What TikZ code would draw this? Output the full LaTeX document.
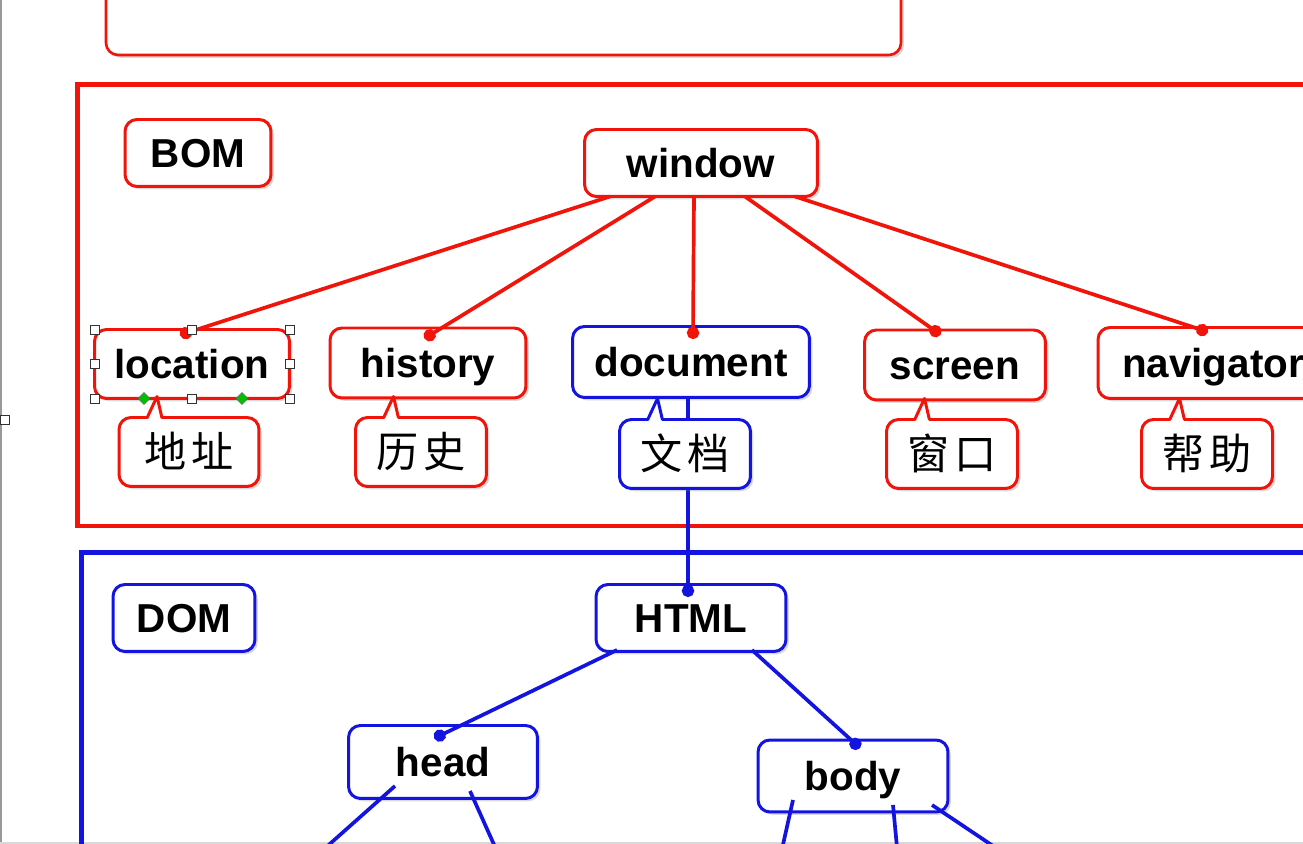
\documentclass[tikz,border=0pt]{standalone}
\usepackage{fontspec}
\setmainfont{Liberation Sans}
\newfontfamily\cjkfont{Noto Sans CJK SC}
\usetikzlibrary{calc,shadows,arrows.meta,shapes.geometric}

\definecolor{bomred}{RGB}{240,20,10}
\definecolor{domblue}{RGB}{20,20,225}

\tikzset{
    box/.style={rounded corners=0.24cm, fill=white, line width=1.7pt, outer sep=0pt, inner sep=0pt,
        font=\fontsize{23}{27}\selectfont\bfseries, text height=16.5pt, text depth=0pt,
        drop shadow={shadow xshift=1.6pt, shadow yshift=-1.6pt, opacity=0.3}},
    bombox/.style={box, draw=bomred},
    dombox/.style={box, draw=domblue},
    tipbox/.style={box, font=\cjkfont\fontsize{24}{28}\selectfont, text height=18pt,
        minimum width=2.62cm, minimum height=1.38cm},
    bomline/.style={bomred, line width=2.1pt, -{Circle[length=7pt]}},
    domline/.style={domblue, line width=2.1pt, -{Circle[length=7pt]}},
    domwire/.style={domblue, line width=2.1pt},
    grip/.style={draw=black!80, fill=white, line width=0.4pt, minimum size=0.18cm, inner sep=0pt},
    gripdot/.style={diamond, draw=black!60, fill=green!75!black, line width=0.3pt, minimum size=0.24cm, inner sep=0pt}
}

% pointer of a callout, up to the box above
\newcommand{\calloutpin}[2]{%
    \fill[white] ($(#1.north west)+(28.5,2)$) -- ($(#1.north west)+(38,-21)$) -- ($(#1.north west)+(42.5,2)$) -- cycle;
    \draw[#2, line width=1.7pt, line join=round] ($(#1.north west)+(28,0.5)$) -- ($(#1.north west)+(38,-21)$) -- ($(#1.north west)+(43,0.5)$);
}

\begin{document}
\begin{tikzpicture}[x=0.02cm, y=-0.02cm]
    \useasboundingbox (0,0) rectangle (1303,844);
    \clip (0,0) rectangle (1303,844);

    \draw[gray!80, line width=1.4pt] (1,0) -- (1,844);
    \draw[gray!30, line width=1pt] (0,843) -- (1303,843);
    \node[grip] (edgegrip) at (5,420) {};

    % panels
    \draw[bomred, line width=1.5pt, rounded corners=0.24cm, fill=white,
        drop shadow={shadow xshift=1.6pt, shadow yshift=-1.6pt, opacity=0.3}] (106,-40) rectangle (901,55);
    \draw[bomred, line width=2.4pt] (77.5,84.5) rectangle (1330,526);
    \draw[domblue, line width=2.4pt] (81.5,552.5) rectangle (1330,900);

    \node[bombox, minimum width=2.92cm, minimum height=1.34cm] (bom) at (198,153) {BOM};
    \node[dombox, minimum width=2.84cm, minimum height=1.34cm] (dom) at (184,618) {DOM};

    \node[bombox, minimum width=4.66cm, minimum height=1.34cm] (window) at (701,163) {window};
    \node[bombox, minimum width=3.9cm, minimum height=1.38cm] (location) at (192,364) {location};
    \node[bombox, minimum width=3.92cm, minimum height=1.4cm] (history) at (428,363) {history};
    \node[dombox, minimum width=4.74cm, minimum height=1.42cm] (document) at (691,362) {document};
    \node[bombox, minimum width=3.62cm, minimum height=1.4cm] (screen) at (955,365) {screen};
    \node[bombox, minimum width=4.6cm, minimum height=1.42cm] (navigator) at (1213,363) {navigator};

    \node[dombox, minimum width=3.8cm, minimum height=1.34cm] (html) at (691,618) {HTML};
    \node[dombox, minimum width=3.78cm, minimum height=1.46cm] (head) at (443,762) {head};
    \node[dombox, minimum width=3.8cm, minimum height=1.44cm] (body) at (853,776) {body};

    % window and its children
    \draw[bomline] ($(window.south)+(-91,0)$) -- ($(location.north)+(-12,5.5)$);
    \draw[bomline] ($(window.south)+(-46,0)$) -- ($(history.north)+(-3.5,10.5)$);
    \draw[bomline] ($(window.south)+(-7,0)$) -- ($(document.north)+(2,12.5)$);
    \draw[bomline] ($(window.south)+(44,0)$) -- ($(screen.north)+(-14.5,4.7)$);
    \draw[bomline] ($(window.south)+(94,0)$) -- ($(navigator.north)+(-5,4.5)$);

    \draw[domline] ($(document.south)+(-3,0)$) -- ($(html.north)+(-3,12.5)$);
    \draw[domline] ($(html.south)+(-74,-1.5)$) -- ($(head.north)+(-8.7,12.8)$);
    \draw[domline] ($(html.south)+(61,-1.5)$) -- ($(body.north)+(7,8)$);

    \coordinate (headL) at (314,858);
    \coordinate (headR) at (500,858);
    \coordinate (bodyL) at (780,858);
    \coordinate (bodyM) at (898,858);
    \coordinate (bodyR) at (1011,858);
    \draw[domwire] ($(head.center)+(-48,24)$) -- (headL);
    \draw[domwire] ($(head.center)+(27,29)$) -- (headR);
    \draw[domwire] ($(body.center)+(-60,24)$) -- (bodyL);
    \draw[domwire] ($(body.center)+(40,29)$) -- (bodyM);
    \draw[domwire] ($(body.center)+(79,29)$) -- (bodyR);

    % callouts
    \node[tipbox, draw=bomred, minimum width=2.8cm] (dizhi) at (189,452) {地\hspace{3pt}址};
    \node[tipbox, draw=bomred] (lishi) at (421,452) {历\hspace{3pt}史};
    \node[tipbox, draw=domblue] (wendang) at (685,454) {文\hspace{3pt}档};
    \node[tipbox, draw=bomred] (chuangkou) at (952,454) {窗\hspace{3pt}口};
    \node[tipbox, draw=bomred] (bangzhu) at (1207,454) {帮\hspace{3pt}助};
    \calloutpin{dizhi}{bomred}
    \calloutpin{lishi}{bomred}
    \calloutpin{wendang}{domblue}
    \calloutpin{chuangkou}{bomred}
    \calloutpin{bangzhu}{bomred}

    % selection handles on location
    \foreach \a in {north west, north, north east, west, east, south west, south, south east}
        \node[grip] (grip-\a) at (location.\a) {};
    \node[gripdot] (gripL) at ($(location.south)+(-48,0)$) {};
    \node[gripdot] (gripR) at ($(location.south)+(50,0)$) {};
\end{tikzpicture}
\end{document}
